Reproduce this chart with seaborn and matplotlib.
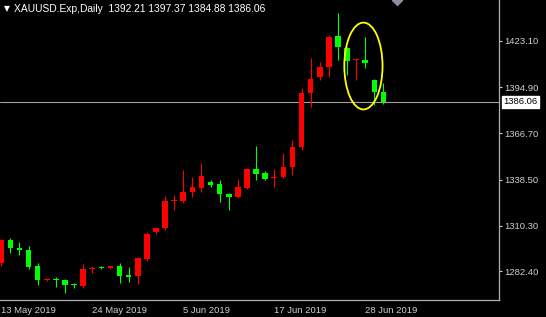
import matplotlib
matplotlib.use("Agg")
import matplotlib.pyplot as plt
from matplotlib.patches import Ellipse
import seaborn as sns
import pandas as pd
import numpy as np

# ---- data ----
opens = [1287.4, 1301.6, 1296.5, 1295.5, 1285.7, 1277.4, 1278.0, 1277.2, 1274.6, 1273.5,
         1284.0, 1284.9, 1284.6, 1285.7, 1279.9, 1279.6, 1289.8, 1306.3, 1308.8, 1325.3,
         1325.4, 1331.1, 1333.6, 1337.2, 1335.8, 1329.9, 1328.1, 1333.6, 1344.8, 1342.7,
         1339.4, 1340.3, 1346.0, 1358.6, 1391.2, 1400.9, 1407.4, 1426.2, 1418.6, 1411.3,
         1411.5, 1399.3, 1392.21]
highs = [1302.5, 1303.0, 1300.6, 1298.1, 1287.4, 1278.5, 1279.2, 1278.0, 1275.2, 1286.8,
         1286.0, 1285.6, 1286.0, 1287.4, 1285.3, 1291.0, 1306.7, 1309.5, 1328.5, 1329.1,
         1344.3, 1340.3, 1348.8, 1338.0, 1338.2, 1330.5, 1338.7, 1345.5, 1359.2, 1343.5,
         1344.8, 1354.5, 1362.7, 1394.2, 1412.5, 1410.5, 1426.5, 1440.0, 1419.5, 1412.0,
         1425.7, 1400.0, 1397.37]
lows = [1286.0, 1293.5, 1292.5, 1283.7, 1274.1, 1276.8, 1273.1, 1269.1, 1272.5, 1272.1,
        1281.3, 1283.8, 1284.0, 1275.5, 1275.9, 1274.8, 1289.0, 1305.5, 1308.0, 1319.9,
        1324.4, 1328.1, 1331.1, 1333.8, 1325.0, 1319.9, 1327.1, 1333.0, 1338.2, 1338.0,
        1334.2, 1339.3, 1341.3, 1356.6, 1383.0, 1399.3, 1401.3, 1411.5, 1402.3, 1399.3,
        1406.4, 1384.0, 1384.88]
closes = [1301.6, 1296.5, 1295.6, 1285.3, 1277.2, 1278.0, 1277.4, 1274.1, 1273.9, 1283.9,
          1284.6, 1284.3, 1285.5, 1279.6, 1279.3, 1290.4, 1305.3, 1309.1, 1325.4, 1325.9,
          1331.1, 1333.8, 1340.9, 1335.4, 1329.7, 1328.0, 1333.8, 1344.9, 1341.7, 1339.0,
          1340.0, 1346.0, 1358.6, 1391.2, 1399.7, 1407.4, 1425.7, 1419.3, 1411.1, 1411.7,
          1409.9, 1392.21, 1386.06]
xtick_pos = [0, 10, 20, 30, 40]
xtick_labels = ["13 May 2019", "24 May 2019", "5 Jun 2019", "17 Jun 2019", "28 Jun 2019"]
ytick_vals = [1282.40, 1310.30, 1338.50, 1366.70, 1394.90, 1423.10]
last_price = 1386.06
header = "XAUUSD.Exp,Daily  1392.21 1397.37 1384.88 1386.06"

df = pd.DataFrame({"open": opens, "high": highs, "low": lows, "close": closes})
df["idx"] = np.arange(len(df))
df["up"] = df["close"] >= df["open"]

UP = "#ff0000"
DOWN = "#00ff00"
FG = "#d0d0d0"

sns.set_style("dark", {"axes.facecolor": "black", "figure.facecolor": "black"})
plt.rcParams["font.family"] = ["Liberation Sans", "DejaVu Sans"]

fig = plt.figure(figsize=(5.46, 3.17), dpi=100, facecolor="black")
ax = fig.add_axes([0.0, 17 / 317, 499 / 546, 300 / 317])
ax.set_facecolor("black")

colors = np.where(df["up"], UP, DOWN)
# wicks
ax.vlines(df["idx"], df["low"], df["high"], colors=colors, linewidth=0.8, zorder=2)
# bodies
body_low = np.minimum(df["open"], df["close"])
body_h = np.maximum(np.abs(df["close"] - df["open"]), 0.7)
ax.bar(df["idx"], body_h, bottom=body_low, width=0.62, color=colors, edgecolor="none", zorder=3)

# last price line
ax.axhline(last_price, color="#a0a0a0", linewidth=0.8, zorder=1)

# highlight ellipse
ax.add_patch(Ellipse((39.8, 1407.8), width=4.2, height=53, fill=False,
                     edgecolor="#ffff00", linewidth=1.3, zorder=4))

ax.set_xlim(-0.14, 54.7)
ax.set_ylim(1265.0, 1448.1)

ax.grid(False)
for s in ["top", "left"]:
    ax.spines[s].set_visible(False)
for s in ["right", "bottom"]:
    ax.spines[s].set_visible(True)
    ax.spines[s].set_color("#b0b0b0")
    ax.spines[s].set_linewidth(0.9)

ax.yaxis.tick_right()
ax.set_yticks(ytick_vals)
ax.set_yticklabels([f"{v:.2f}" for v in ytick_vals])
ax.tick_params(axis="y", colors=FG, labelcolor=FG, labelsize=6.8, length=2.5, width=0.8,
               direction="out", pad=1)
ax.set_xticks(xtick_pos)
ax.set_xticklabels(xtick_labels, ha="left")
ax.tick_params(axis="x", colors=FG, labelcolor=FG, labelsize=6.8, length=3, width=0.8,
               direction="out", pad=1.5)
for lbl in ax.get_xticklabels():
    lbl.set_horizontalalignment("left")

# last price box
ax.annotate(f"{last_price:.2f}", xy=(1.0, last_price), xycoords=("axes fraction", "data"),
            xytext=(3, 0), textcoords="offset points", va="center", ha="left",
            fontsize=6.8, color="black",
            bbox=dict(boxstyle="square,pad=0.15", facecolor="white", edgecolor="white"))

# header
fig.text(4 / 546, 1 - 9 / 317, "\u25bc", color="white", fontsize=5.5, va="center",
         ha="left", family=["DejaVu Sans"])
fig.text(14 / 546, 1 - 9 / 317, header, color="white", fontsize=7.4, va="center", ha="left")

# small grey marker at top (chart shift marker)
ax.plot([43.5], [1448.1], marker="D", markersize=5, color="#8a8f99", clip_on=True, zorder=5)

fig.savefig("out.png", dpi=100, facecolor="black")
